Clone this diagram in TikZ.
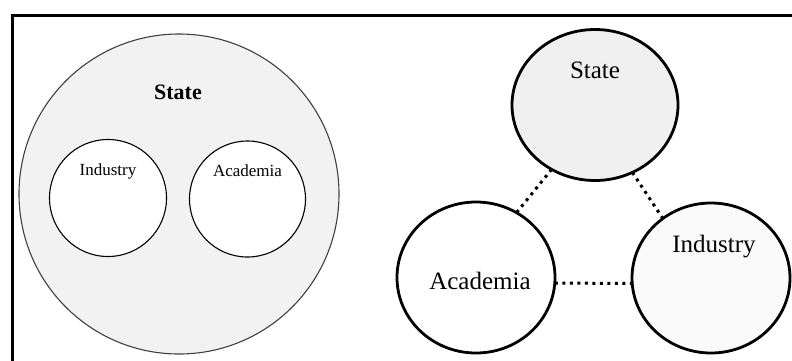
\documentclass[tikz,border=0pt]{standalone}
\usepackage{fontspec}
\setmainfont{Liberation Serif}
\usetikzlibrary{shapes.geometric}
\begin{document}
\begin{tikzpicture}[x=1pt,y=-1pt,inner sep=0pt,outer sep=0pt,
disc/.style={draw,circle,line width=1.1pt},
ring/.style={draw,ellipse,line width=2.8pt},
link/.style={line width=3pt,dash pattern=on 3pt off 4.5pt},
smalltext/.style={font=\fontsize{17}{20}\selectfont,anchor=base},
bigtext/.style={font=\fontsize{25}{30}\selectfont,anchor=base}]

\useasboundingbox (0,0) rectangle (792,360);
\clip (0,0) rectangle (792,360);
\draw[line width=3pt] (12,15) rectangle (830,420);

% state containing the other two
\draw (179,194) node[disc,fill=gray!10,draw=black!75,minimum size=320pt] (stateL) {};
\draw (108,198) node[disc,fill=white,minimum size=117pt] (industryL) {};
\draw (247.5,199) node[disc,fill=white,minimum size=116pt] (academiaL) {};
\draw (178,99) node[smalltext,font=\fontsize{22}{26}\selectfont\bfseries] (stateLtext) {State};
\draw (108,175) node[smalltext] (industryLtext) {Industry};
\draw (247.5,176) node[smalltext] (academiaLtext) {Academia};

% triple helix
\draw (595,105) node[ring,fill=gray!12,minimum width=166pt,minimum height=151pt] (stateR) {};
\draw (476,277.5) node[ring,fill=white,minimum width=158pt,minimum height=151pt] (academiaR) {};
\draw (711,278) node[ring,fill=gray!4,minimum width=158pt,minimum height=150pt] (industryR) {};
\draw (595,78) node[bigtext] (stateRtext) {State};
\draw (480,289) node[bigtext] (academiaRtext) {Academia};
\draw (714,252) node[bigtext] (industryRtext) {Industry};
\draw[link] (stateR.236) -- (academiaR.58);
\draw[link] (stateR.299) -- (industryR.129);
\draw[link] (academiaR.-4) -- (industryR.184);
\end{tikzpicture}
\end{document}
